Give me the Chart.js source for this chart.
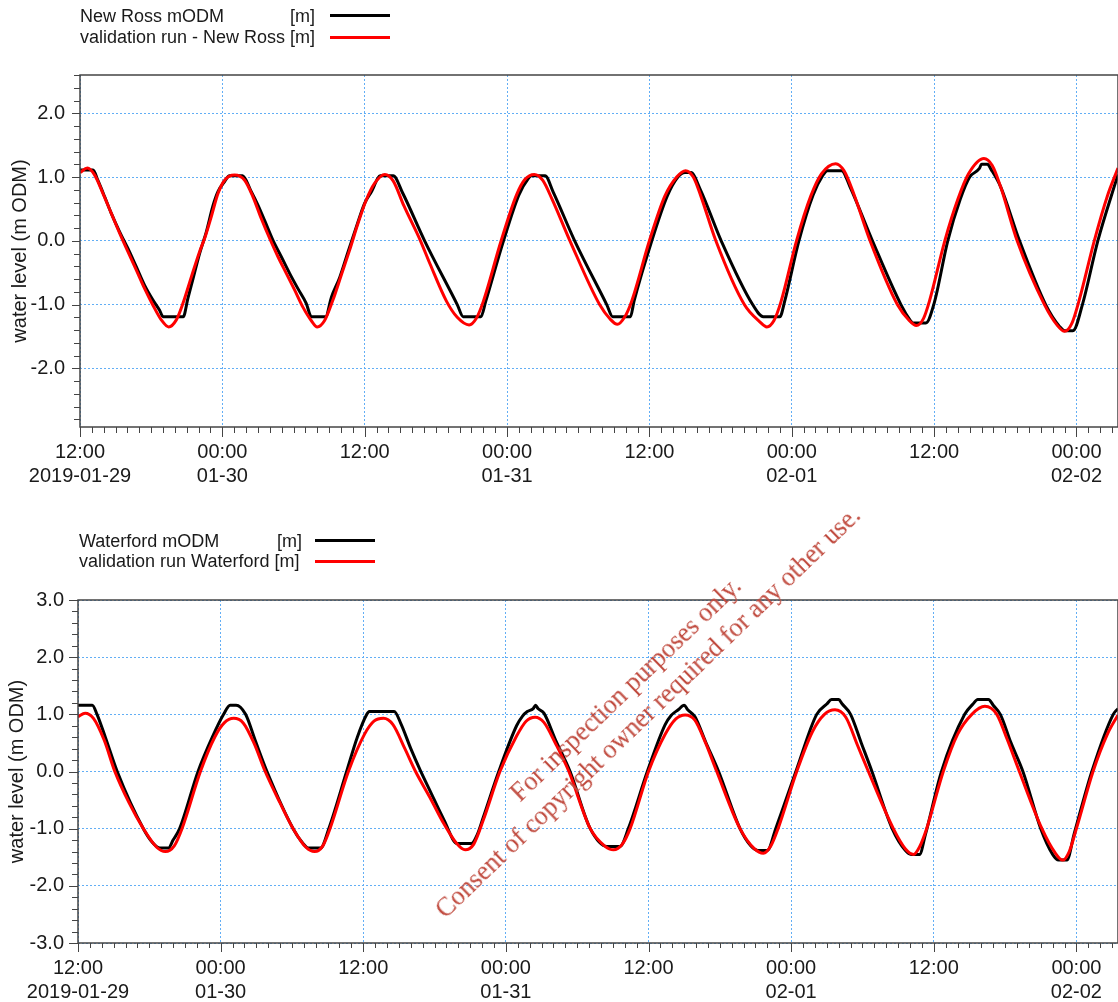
<!DOCTYPE html>
<html>
<head>
<meta charset="utf-8">
<script src="https://cdn.jsdelivr.net/npm/chart.js@4.4.1/dist/chart.umd.min.js"></script>
<style>
  body { margin: 0; background: #fff; width: 1118px; height: 1002px; position: relative; overflow: hidden;
         font-family: "Liberation Sans", Arial, sans-serif; color: #1a1a1a; }
  canvas { position: absolute; left: 0; }
  #chartNewRoss { top: 0; }
  #chartWaterford { top: 520px; }
  .lg { position: absolute; font-size: 18px; line-height: 20px; white-space: pre; }
  .sw { position: absolute; height: 3px; width: 60px; }
  #watermark { position: absolute; width: 700px; left: 287px; top: 669px; z-index: 5;
               font-family: "Liberation Serif", "Times New Roman", serif; font-size: 26.3px; line-height: 32px;
               color: #c04a3e; text-align: center; white-space: nowrap;
               transform: rotate(-44deg); transform-origin: 50% 50%; }
</style>
</head>
<body>
<canvas id="chartNewRoss" width="1118" height="500"></canvas>
<canvas id="chartWaterford" width="1118" height="482"></canvas>

<div class="lg" style="left:80px; top:6px">New Ross mODM</div>
<div class="lg" style="left:290px; top:6px">[m]</div>
<div class="lg" style="left:80px; top:27px">validation run - New Ross [m]</div>
<div class="sw" style="left:330px; top:14px; background:#000"></div>
<div class="sw" style="left:330px; top:36px; background:#ff0000"></div>

<div class="lg" style="left:79px; top:531px">Waterford mODM</div>
<div class="lg" style="left:277px; top:531px">[m]</div>
<div class="lg" style="left:79px; top:551px">validation run Waterford [m]</div>
<div class="sw" style="left:315px; top:539px; background:#000"></div>
<div class="sw" style="left:315px; top:560px; background:#ff0000"></div>

<div id="watermark">For inspection purposes only.<br>Consent of copyright owner required for any other use.</div>

<script>
// x values are hours after 2019-01-29 12:00
const timeTicks = [0, 12, 24, 36, 48, 60, 72, 84];
const timeLabels = [['12:00', '2019-01-29'], ['00:00', '01-30'], ['12:00'], ['00:00', '01-31'],
                    ['12:00'], ['00:00', '02-01'], ['12:00'], ['00:00', '02-02']];
const hoursShown = 87.5;
const newRossTicks = [-2, -1, 0, 1, 2];
const waterfordTicks = [-3, -2, -1, 0, 1, 2, 3];

// New Ross, measured (m ODM)
const newRossObs = [
  [0, 1.11], [1.1, 1.11], [1.5, 0.95], [2.08, 0.69], [2.64, 0.43], [3.34, 0.14], [4.04, -0.12],
  [4.75, -0.41], [5.45, -0.7], [6.15, -0.93], [6.71, -1.09], [7.0, -1.19], [8.7, -1.19], [9.1, -0.9],
  [9.52, -0.6], [10.08, -0.2], [10.65, 0.14], [11.21, 0.55], [11.63, 0.77], [12.19, 0.93], [12.6, 1.02],
  [13.7, 1.02], [14.44, 0.77], [15.0, 0.56], [15.56, 0.32], [16.26, 0.01], [16.97, -0.25], [17.67, -0.51],
  [18.37, -0.75], [19.07, -0.98], [19.5, -1.19], [20.7, -1.19], [21.2, -0.88], [21.9, -0.57], [22.6, -0.17],
  [23.3, 0.22], [24.0, 0.59], [24.6, 0.78], [25.1, 0.98], [25.3, 1.02], [26.4, 1.02], [27.2, 0.75],
  [29.05, 0.0], [31.8, -1.0], [32.3, -1.19], [33.8, -1.19], [34.2, -0.95], [35.7, 0.0], [37.0, 0.72],
  [37.8, 0.98], [38.05, 1.02], [39.2, 1.02], [39.9, 0.76], [41.7, 0.0], [44.4, -1.0], [44.9, -1.19],
  [46.4, -1.19], [46.7, -0.95], [48.2, 0.0], [49.5, 0.7], [50.4, 1.0], [51.0, 1.07], [51.5, 1.07],
  [52.3, 0.8], [54.05, 0.0], [56.7, -1.0], [57.6, -1.19], [59.0, -1.19], [59.4, -0.95], [60.6, 0.0],
  [61.8, 0.72], [62.6, 1.02], [63.0, 1.1], [64.2, 1.1], [64.9, 0.85], [66.8, 0.0], [69.2, -1.0],
  [70.0, -1.25], [70.2, -1.29], [71.3, -1.29], [72.0, -0.98], [73.15, 0.0], [74.2, 0.65], [75.0, 1.0],
  [75.8, 1.13], [76.0, 1.2], [76.5, 1.2], [76.8, 1.12], [77.6, 0.85], [79.2, 0.0], [81.4, -1.0],
  [82.6, -1.35], [83.0, -1.41], [83.7, -1.41], [84.5, -1.0], [85.8, 0.0], [87.5, 1.04]
];

// New Ross, validation run (m ODM)
const newRossRun = [
  [0, 1.07], [0.62, 1.14], [1.24, 1.03], [1.94, 0.74], [2.64, 0.43], [3.34, 0.12], [4.04, -0.17],
  [4.75, -0.46], [5.45, -0.75], [6.15, -1.01], [6.85, -1.24], [7.47, -1.35], [8.12, -1.24], [8.68, -0.98],
  [9.38, -0.57], [10.08, -0.17], [10.51, 0.04], [11.07, 0.38], [11.63, 0.74], [12.19, 0.95], [13.03, 1.03],
  [13.88, 0.95], [14.58, 0.69], [15.28, 0.35], [15.98, 0.04], [16.69, -0.25], [17.39, -0.51], [18.09, -0.77],
  [18.79, -1.04], [19.49, -1.25], [20.0, -1.35], [20.62, -1.25], [21.32, -0.93], [22.02, -0.54],
  [22.72, -0.15], [23.43, 0.27], [24.13, 0.64], [24.83, 0.9], [25.7, 1.04], [26.4, 0.94], [27.3, 0.55],
  [28.7, 0.0], [29.5, -0.36], [30.9, -0.95], [31.8, -1.2], [32.8, -1.32], [33.4, -1.22], [34.0, -0.95],
  [35.5, 0.0], [36.8, 0.72], [37.5, 0.96], [38.3, 1.04], [39.0, 0.95], [39.8, 0.65], [41.3, 0.0],
  [43.8, -1.0], [44.7, -1.23], [45.3, -1.31], [45.9, -1.2], [46.5, -0.95], [48.0, 0.0], [49.3, 0.7],
  [50.3, 1.0], [51.05, 1.1], [51.7, 1.0], [52.3, 0.72], [53.6, 0.0], [56.0, -1.0], [57.3, -1.27],
  [57.9, -1.35], [58.5, -1.25], [59.1, -0.95], [60.4, 0.0], [61.6, 0.7], [62.5, 1.05], [63.7, 1.21],
  [64.4, 1.1], [65.2, 0.75], [66.6, 0.0], [68.9, -1.0], [69.9, -1.25], [70.5, -1.33], [71.1, -1.22],
  [71.6, -0.95], [72.9, 0.0], [74.0, 0.65], [74.9, 1.05], [76.2, 1.29], [76.9, 1.18], [77.6, 0.85],
  [79.0, 0.0], [81.3, -1.0], [82.4, -1.33], [83.0, -1.42], [83.6, -1.3], [84.2, -0.95], [85.5, 0.0],
  [86.6, 0.7], [87.5, 1.14]
];

// Waterford, measured (m ODM)
const waterfordObs = [
  [0, 1.16], [1.2, 1.16], [1.6, 1.0], [2.3, 0.6], [3.3, 0.0], [5.5, -1.0], [6.3, -1.25], [6.9, -1.34],
  [7.6, -1.34], [8.0, -1.2], [8.55, -1.0], [10.1, 0.0], [11.3, 0.6], [12.25, 1.0], [12.8, 1.16],
  [13.3, 1.16], [14.1, 1.0], [14.9, 0.55], [15.9, 0.0], [18.1, -1.0], [18.9, -1.25], [19.4, -1.34],
  [20.4, -1.34], [21.1, -1.0], [22.6, 0.0], [23.5, 0.6], [24.3, 1.0], [24.5, 1.05], [26.6, 1.05],
  [27.2, 0.82], [28.0, 0.4], [28.8, 0.02], [29.6, -0.33], [30.8, -0.85], [31.9, -1.26], [33.1, -1.26],
  [33.6, -1.1], [34.1, -0.8], [35.4, 0.0], [36.9, 0.8], [37.4, 0.97], [37.8, 1.05], [38.3, 1.1],
  [38.5, 1.16], [38.7, 1.1], [39.2, 1.02], [40.2, 0.54], [41.4, 0.0], [43.1, -1.0], [44.5, -1.31],
  [45.6, -1.31], [46.3, -1.0], [47.9, 0.0], [49.4, 0.82], [49.9, 0.98], [50.5, 1.08], [51.0, 1.16],
  [51.3, 1.08], [51.9, 0.96], [52.8, 0.52], [53.9, 0.0], [55.7, -1.0], [56.6, -1.3], [57.2, -1.38],
  [58.0, -1.38], [58.7, -1.0], [60.4, 0.0], [62.15, 1.0], [63.0, 1.18], [63.4, 1.26], [64.0, 1.26],
  [64.3, 1.18], [65.0, 1.0], [65.9, 0.5], [66.8, 0.0], [68.5, -1.0], [69.6, -1.38], [70.1, -1.45],
  [70.8, -1.45], [71.3, -1.1], [72.65, 0.0], [74.6, 1.0], [75.3, 1.18], [75.7, 1.26], [76.6, 1.26],
  [77.0, 1.16], [77.6, 1.0], [78.5, 0.5], [79.5, 0.0], [81.0, -1.0], [82.0, -1.45], [82.5, -1.55],
  [83.2, -1.55], [83.8, -1.1], [85.3, 0.0], [87.1, 1.0], [87.5, 1.1]
];

// Waterford, validation run (m ODM)
const waterfordRun = [
  [0, 0.96], [0.6, 1.02], [1.3, 0.93], [2.2, 0.55], [3.1, 0.0], [4.3, -0.55], [5.5, -1.0], [6.6, -1.32],
  [7.35, -1.4], [8.1, -1.3], [8.75, -1.0], [10.3, 0.0], [11.5, 0.6], [12.3, 0.85], [13.1, 0.93],
  [13.9, 0.85], [14.8, 0.5], [15.75, 0.0], [17.0, -0.55], [18.1, -1.0], [19.2, -1.33], [19.9, -1.4],
  [20.6, -1.3], [21.2, -1.0], [22.75, 0.0], [24.1, 0.65], [24.9, 0.88], [25.7, 0.93], [26.5, 0.82],
  [27.5, 0.4], [28.4, 0.0], [29.6, -0.45], [30.8, -0.92], [31.9, -1.27], [32.57, -1.37], [33.3, -1.27],
  [34.1, -0.85], [35.5, 0.0], [36.9, 0.62], [37.7, 0.88], [38.46, 0.95], [39.2, 0.86], [40.2, 0.48],
  [41.3, 0.0], [43.1, -1.0], [44.3, -1.3], [45.05, -1.37], [45.8, -1.27], [46.45, -1.0], [48.0, 0.0],
  [49.4, 0.65], [50.3, 0.92], [51.08, 0.99], [51.9, 0.9], [52.8, 0.5], [53.74, 0.0], [55.7, -1.0],
  [56.9, -1.35], [57.66, -1.43], [58.3, -1.3], [58.9, -1.0], [60.47, 0.0], [61.8, 0.7], [62.8, 1.0],
  [63.69, 1.08], [64.6, 0.95], [65.6, 0.45], [66.5, 0.0], [68.6, -1.0], [69.6, -1.35], [70.3, -1.45],
  [70.8, -1.32], [71.4, -1.0], [72.8, 0.0], [74.0, 0.65], [75.2, 1.0], [76.3, 1.14], [77.3, 1.0],
  [78.2, 0.55], [79.2, 0.0], [81.1, -1.0], [82.2, -1.42], [82.85, -1.55], [83.4, -1.4], [84.0, -1.0],
  [85.4, 0.0], [86.6, 0.65], [87.5, 0.99]
];

const fontFamily = '"Liberation Sans", Arial, sans-serif';
const textColor = '#1a1a1a';
const gridBlue = '#62aef5';

// frame round the plot plus hourly / 0.2 m minor tick marks
const frameTicks = {
    id: 'frameTicks',
    afterDraw(chart, args, o) {
        const { ctx, chartArea: a, scales: { x, y } } = chart;
        ctx.save();
        ctx.strokeStyle = '#444';
        ctx.lineWidth = 1;
        ctx.beginPath();
        for (let h = 0; h <= x.max; h++) {
            const px = Math.round(x.getPixelForValue(h)) + 0.5;
            ctx.moveTo(px, a.bottom);
            ctx.lineTo(px, a.bottom + (h % 12 === 0 ? o.xMajor : o.xMinor));
        }
        for (let i = Math.ceil(y.min / 0.2 - 1e-6); i * 0.2 <= y.max + 1e-6; i++) {
            const py = Math.round(y.getPixelForValue(i * 0.2)) + 0.5;
            ctx.moveTo(a.left - (i % 5 === 0 ? o.yMajor : o.yMinor), py);
            ctx.lineTo(a.left, py);
        }
        ctx.stroke();
        ctx.lineWidth = 1.5;
        ctx.strokeRect(a.left, a.top, a.right - a.left, a.bottom - a.top);
        ctx.restore();
    }
};

function makeChart(id, obs, run, yMin, yMax, yTicks, g) {
    return new Chart(document.getElementById(id), {
        type: 'line',
        data: {
            datasets: [
                { data: run.map(([x, y]) => ({ x, y })), borderColor: '#ff0000', borderWidth: 3,
                  pointRadius: 0, cubicInterpolationMode: 'monotone' },
                { data: obs.map(([x, y]) => ({ x, y })), borderColor: '#000000', borderWidth: 3,
                  pointRadius: 0, cubicInterpolationMode: 'monotone' }
            ]
        },
        options: {
            responsive: false,
            animation: false,
            devicePixelRatio: 1,
            layout: { padding: { top: g.top, left: 0, right: 0, bottom: 0 } },
            plugins: {
                legend: { display: false },
                tooltip: { enabled: false },
                frameTicks: g.ticks
            },
            scales: {
                x: {
                    type: 'linear',
                    min: 0,
                    max: hoursShown,
                    afterBuildTicks: s => { s.ticks = timeTicks.map(v => ({ value: v })); },
                    afterFit: s => { s.height = g.xHeight; },
                    grid: { color: gridBlue, lineWidth: 1, drawTicks: false },
                    border: { display: false, dash: [2, 2] },
                    ticks: {
                        callback: (v, i) => timeLabels[i],
                        font: { family: fontFamily, size: 20 },
                        color: textColor,
                        padding: g.xPad,
                        maxRotation: 0,
                        autoSkip: false
                    }
                },
                y: {
                    min: yMin,
                    max: yMax,
                    afterBuildTicks: s => { s.ticks = yTicks.map(v => ({ value: v })); },
                    afterFit: s => { s.width = g.yWidth; },
                    grid: { color: gridBlue, lineWidth: 1, drawTicks: false },
                    border: { display: false, dash: [2, 2] },
                    title: {
                        display: true,
                        text: 'water level (m ODM)',
                        font: { family: fontFamily, size: 20 },
                        color: textColor,
                        padding: { top: g.titlePad, bottom: 0 }
                    },
                    ticks: {
                        callback: v => v.toFixed(1),
                        font: { family: fontFamily, size: 20 },
                        color: textColor,
                        padding: g.yPad
                    }
                }
            }
        },
        plugins: [frameTicks]
    });
}

makeChart('chartNewRoss', newRossObs, newRossRun, -2.92, 2.6, newRossTicks, {
    top: 75, xHeight: 73, yWidth: 80, xPad: 13, yPad: 15, titlePad: 8,
    ticks: { xMajor: 10, xMinor: 6, yMajor: 8, yMinor: 6 }
});

makeChart('chartWaterford', waterfordObs, waterfordRun, -3, 3, waterfordTicks, {
    top: 80, xHeight: 59, yWidth: 78, xPad: 13, yPad: 14, titlePad: 5.5,
    ticks: { xMajor: 9, xMinor: 5, yMajor: 9, yMinor: 6 }
});
</script>
</body>
</html>
